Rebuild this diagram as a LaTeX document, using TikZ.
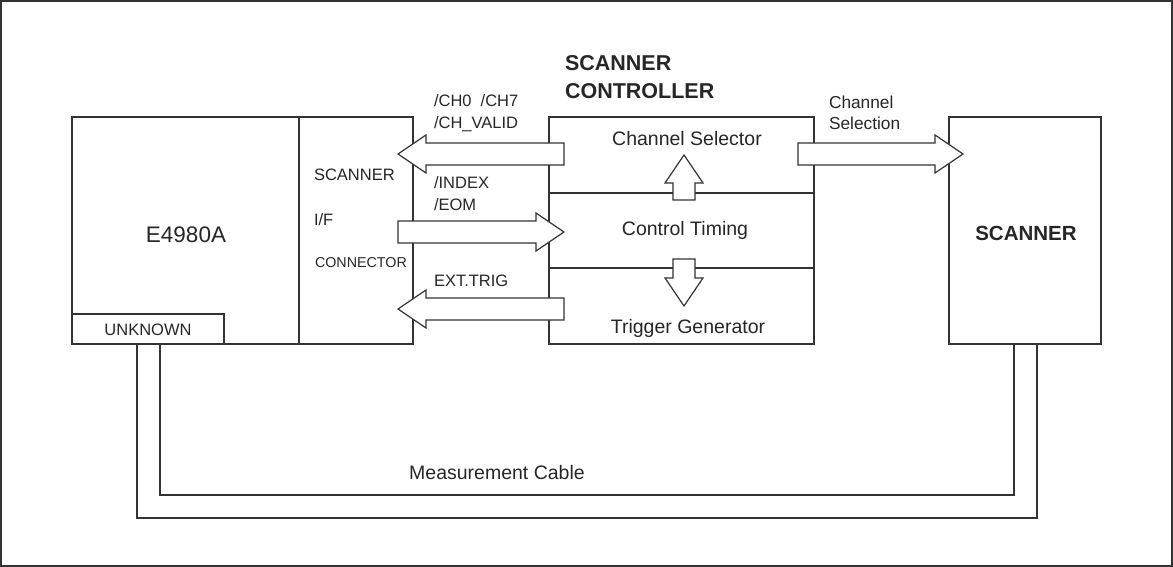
\documentclass[tikz,border=0pt]{standalone}
\usepackage{fontspec}
\setmainfont{Liberation Sans}
\newcommand{\fatarrow}[3]{%
  \draw[fatline,shift={(#1)},rotate=#2] (0,-11)--({#3-28},-11)--({#3-28},-19)--(#3,0)
    --({#3-28},19)--({#3-28},11)--(0,11)--cycle;}
\begin{document}
\begin{tikzpicture}[x=1pt,y=-1pt,line join=miter]
			\tikzset{every node/.style={inner sep=0pt,outer sep=0pt,text=black!85},
				box/.style={draw=black!80,line width=1.2pt,fill=white,anchor=north west},
				wire/.style={draw=black!80,line width=1.2pt},
				fatline/.style={draw=black!80,line width=1.2pt,fill=white},
				big/.style={font=\fontsize{19.5}{22}\selectfont},
				sml/.style={font=\fontsize{16.5}{19}\selectfont},
				ttl/.style={font=\fontsize{21.5}{24}\selectfont\bfseries}}
			\useasboundingbox (0,0) rectangle (1173,567);
			\draw[wire] (1,1) rectangle (1172,566);
			% boxes
			\node[box,minimum width=227,minimum height=227] (meter) at (72,117) {};
			\node[box,minimum width=114,minimum height=227] (conn) at (299,117) {};
			\node[box,minimum width=152,minimum height=30] (unk) at (72,314) {};
			\node[box,minimum width=265,minimum height=227] (ctrl) at (549,117) {};
			\node[box,minimum width=152,minimum height=227] (scan) at (949,117) {};
			\draw[wire] (ctrl.west |- 0,193) -- (ctrl.east |- 0,193);
			\draw[wire] (ctrl.west |- 0,268) -- (ctrl.east |- 0,268);
			% measurement cable
			\coordinate (ca) at (137,344);
			\coordinate (cb) at (160,344);
			\coordinate (cc) at (1014,344);
			\coordinate (cd) at (1037,344);
			\draw[wire] (ca) |- (0,518 -| cd) -- (cd);
			\draw[wire] (cb) |- (0,495 -| cc) -- (cc);
			% block arrows
			\coordinate (a1) at (564,154);
			\coordinate (a2) at (398,232);
			\coordinate (a3) at (564,309);
			\coordinate (a4) at (798,154);
			\coordinate (a5) at (684,200);
			\coordinate (a6) at (684,259);
			\fatarrow{a1}{180}{166}
			\fatarrow{a2}{0}{166}
			\fatarrow{a3}{180}{166}
			\fatarrow{a4}{0}{165}
			\fatarrow{a5}{90}{45}
			\fatarrow{a6}{-90}{47}
			% labels
			\node[font=\fontsize{22.5}{25}\selectfont,anchor=base] (tmeter) at (186,242) {E4980A};
			\node[sml,anchor=base] (tunk) at (148,335) {UNKNOWN};
			\node[sml,anchor=base west] (tconn1) at (314,180) {SCANNER};
			\node[sml,anchor=base west] (tconn2) at (314,225) {I/F};
			\node[font=\fontsize{14.3}{17}\selectfont,anchor=base west] (tconn3) at (315,267) {CONNECTOR};
			\node[sml,anchor=base west] (tch) at (434,106.5) {/CH0\ \ /CH7};
			\node[sml,anchor=base west] (tvalid) at (434,128.5) {/CH\_VALID};
			\node[sml,anchor=base west] (tindex) at (434,188.3) {/INDEX};
			\node[sml,anchor=base west] (teom) at (434,210) {/EOM};
			\node[sml,anchor=base west] (ttrig) at (434,286.7) {EXT.TRIG};
			\node[ttl,anchor=base west] (tctl1) at (565,70.7) {SCANNER};
			\node[ttl,anchor=base west] (tctl2) at (565,98.3) {CONTROLLER};
			\node[big,anchor=base] (tsel) at (687,146) {Channel Selector};
			\node[big,anchor=base] (ttim) at (685,235) {Control Timing};
			\node[big,anchor=base] (tgen) at (688,333.3) {Trigger Generator};
			\node[font=\fontsize{17.3}{20}\selectfont,anchor=base west] (tcs1) at (829,108.3) {Channel};
			\node[font=\fontsize{17.3}{20}\selectfont,anchor=base west] (tcs2) at (829,130) {Selection};
			\node[font=\fontsize{20.5}{23}\selectfont\bfseries,anchor=base] (tscan) at (1026,240.7) {SCANNER};
			\node[big,anchor=base] (tcable) at (497,479) {Measurement Cable};
		\end{tikzpicture}
\end{document}
